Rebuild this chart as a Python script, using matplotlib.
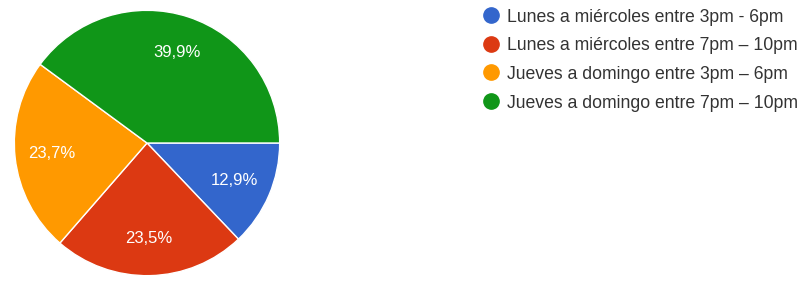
import matplotlib
matplotlib.use("Agg")
import matplotlib.pyplot as plt
from matplotlib.lines import Line2D

plt.rcParams['font.family'] = ['Liberation Sans', 'DejaVu Sans']

labels = ["Lunes a miércoles entre 3pm - 6pm",
          "Lunes a miércoles entre 7pm – 10pm",
          "Jueves a domingo entre 3pm – 6pm",
          "Jueves a domingo entre 7pm – 10pm"]
values = [12.9, 23.5, 23.7, 39.9]
colors = ["#3366cc", "#dc3912", "#ff9900", "#109618"]

W, H = 807, 282
fig = plt.figure(figsize=(W / 100, H / 100), dpi=100)

# pie area in pixels: center ~ (147,143), radius ~134
ax = fig.add_axes([13 / W, (H - 277) / H, 268 / W, 268 / H])
wedges, texts, autotexts = ax.pie(
    values, colors=colors, startangle=0, counterclock=False,
    autopct=lambda p: f"{p:.1f}%".replace(".", ","), pctdistance=0.72,
    wedgeprops=dict(edgecolor="white", linewidth=1),
    textprops=dict(color="white", fontsize=12))
ax.set_xlim(-1.01, 1.01)
ax.set_ylim(-1.01, 1.01)
ax.set_aspect("equal")

# legend drawn by hand (pixel rows from the reference)
for i, (lab, c) in enumerate(zip(labels, colors)):
    y = 1 - (15 + i * 28.7) / H
    fig.add_artist(Line2D([491 / W], [y], marker="o", markersize=11,
                          markerfacecolor=c, markeredgecolor=c,
                          transform=fig.transFigure))
    fig.text(507 / W, y, lab, fontsize=12.7, color="#333333",
             va="center_baseline", ha="left")

fig.savefig("out.png", dpi=100)
